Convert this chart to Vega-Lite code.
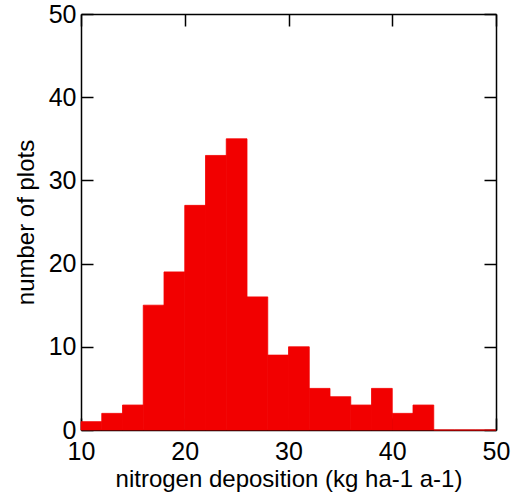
{
  "$schema": "https://vega.github.io/schema/vega-lite/v6.json",
  "width": 415,
  "height": 416,
  "autosize": {"type": "none"},
  "padding": {"left": 81, "top": 14, "right": 16, "bottom": 69},
  "background": "white",
  "config": {
    "view": {"stroke": null},
    "font": "Liberation Sans",
    "axis": {"grid": false, "domainColor": "#000", "domainWidth": 1.5, "tickColor": "#000", "tickWidth": 1.5, "tickSize": -12, "labelFont": "Liberation Sans", "labelFontSize": 25, "labelColor": "#000", "titleFont": "Liberation Sans", "titleFontSize": 24, "titleFontWeight": "normal", "titleColor": "#000"}
  },
  "data": {"values": [
    {"start": 10, "end": 12, "count": 1},
    {"start": 12, "end": 14, "count": 2},
    {"start": 14, "end": 16, "count": 3},
    {"start": 16, "end": 18, "count": 15},
    {"start": 18, "end": 20, "count": 19},
    {"start": 20, "end": 22, "count": 27},
    {"start": 22, "end": 24, "count": 33},
    {"start": 24, "end": 26, "count": 35},
    {"start": 26, "end": 28, "count": 16},
    {"start": 28, "end": 30, "count": 9},
    {"start": 30, "end": 32, "count": 10},
    {"start": 32, "end": 34, "count": 5},
    {"start": 34, "end": 36, "count": 4},
    {"start": 36, "end": 38, "count": 3},
    {"start": 38, "end": 40, "count": 5},
    {"start": 40, "end": 42, "count": 2},
    {"start": 42, "end": 44, "count": 3},
    {"start": 44, "end": 46, "count": 0},
    {"start": 46, "end": 48, "count": 0},
    {"start": 48, "end": 50, "count": 0}
  ]},
  "layer": [
    {
      "mark": {"type": "rect", "color": "#f20000", "stroke": "#f20000", "strokeWidth": 0.8},
      "encoding": {
        "x": {"field": "start", "type": "quantitative", "scale": {"domain": [10, 50], "nice": false}, "axis": {"title": "nitrogen deposition (kg ha-1 a-1)", "values": [10, 20, 30, 40, 50], "labelPadding": 21, "titlePadding": 3, "labelFlush": false, "labelOverlap": false}},
        "x2": {"field": "end"},
        "y": {"field": "count", "type": "quantitative", "scale": {"domain": [0, 50], "nice": false}, "axis": {"title": "number of plots", "values": [0, 10, 20, 30, 40, 50], "labelPadding": 17, "titlePadding": 10, "labelFlush": false, "labelOverlap": false}},
        "y2": {"datum": 0}
      }
    },
    {
      "mark": {"type": "rule", "opacity": 0},
      "encoding": {
        "x": {"datum": 10, "type": "quantitative", "axis": {"orient": "top", "labels": false, "title": null, "values": [10, 20, 30, 40, 50]}},
        "y": {"datum": 0, "type": "quantitative", "axis": {"orient": "right", "labels": false, "title": null, "values": [0, 10, 20, 30, 40, 50]}}
      }
    }
  ],
  "resolve": {"axis": {"x": "independent", "y": "independent"}}
}
